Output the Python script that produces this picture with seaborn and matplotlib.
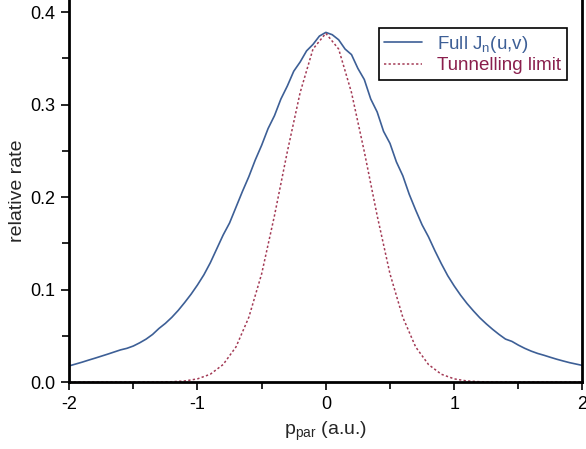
import matplotlib
matplotlib.use("Agg")
import matplotlib.pyplot as plt
import pandas as pd
import seaborn as sns
from matplotlib.ticker import MultipleLocator

# momentum grid (a.u.) and rates
p_full = [-2.00, -1.95, -1.90, -1.85, -1.80, -1.75, -1.70, -1.65, -1.60, -1.55,
          -1.50, -1.45, -1.40, -1.35, -1.30, -1.25, -1.20, -1.15, -1.10, -1.05,
          -1.00, -0.95, -0.90, -0.85, -0.80, -0.75, -0.70, -0.65, -0.60, -0.55,
          -0.50, -0.45, -0.40, -0.35, -0.30, -0.25, -0.20, -0.15, -0.10, -0.05,
          0.00, 0.05, 0.10, 0.15, 0.20, 0.25, 0.30, 0.35, 0.40, 0.45,
          0.50, 0.55, 0.60, 0.65, 0.70, 0.75, 0.80, 0.85, 0.90, 0.95,
          1.00, 1.05, 1.10, 1.15, 1.20, 1.25, 1.30, 1.35, 1.40, 1.45,
          1.50, 1.55, 1.60, 1.65, 1.70, 1.75, 1.80, 1.85, 1.90, 1.95, 2.00]
rate_full = [0.0175, 0.0195, 0.0215, 0.0237, 0.0258, 0.0280, 0.0302, 0.0325, 0.0348, 0.0365,
             0.0390, 0.0425, 0.0465, 0.0515, 0.0580, 0.0635, 0.0700, 0.0775, 0.0860, 0.0950,
             0.1050, 0.1160, 0.1290, 0.1440, 0.1590, 0.1720, 0.1890, 0.2060, 0.2220, 0.2400,
             0.2560, 0.2740, 0.2880, 0.3060, 0.3200, 0.3360, 0.3460, 0.3580, 0.3650, 0.3740,
             0.3780, 0.3755, 0.3700, 0.3600, 0.3540, 0.3390, 0.3270, 0.3060, 0.2920, 0.2710,
             0.2580, 0.2380, 0.2230, 0.2030, 0.1860, 0.1700, 0.1570, 0.1420, 0.1280, 0.1150,
             0.1040, 0.0940, 0.0850, 0.0770, 0.0695, 0.0630, 0.0570, 0.0515, 0.0465, 0.0440,
             0.0400, 0.0365, 0.0335, 0.0310, 0.0290, 0.0268, 0.0247, 0.0228, 0.0210, 0.0195, 0.0180]

p_tunnel = [-2.0, -1.5, -1.3, -1.2, -1.1, -1.0, -0.9, -0.8, -0.7, -0.6, -0.5, -0.4, -0.3,
            -0.2, -0.1, 0.0, 0.1, 0.2, 0.3, 0.4, 0.5, 0.6, 0.7, 0.8, 0.9, 1.0, 1.1,
            1.2, 1.3, 1.5, 2.0]
rate_tunnel = [0.0, 0.0, 0.0, 0.0004, 0.0012, 0.0035, 0.0085, 0.019, 0.038, 0.070, 0.117, 0.180, 0.249,
               0.313, 0.360, 0.377, 0.360, 0.313, 0.249, 0.180, 0.117, 0.070, 0.038, 0.019, 0.0085, 0.0035, 0.0012,
               0.0004, 0.0, 0.0, 0.0]

df_full = pd.DataFrame({"p": p_full, "rate": rate_full})
df_tunnel = pd.DataFrame({"p": p_tunnel, "rate": rate_tunnel})

blue = "#3d5f96"
red = "#a33a55"

sns.set_style("ticks")
plt.rcParams['font.family'] = ['Liberation Sans', 'DejaVu Sans']
plt.rcParams['axes.unicode_minus'] = False

fig = plt.figure(figsize=(5.86, 4.49), dpi=100)
ax = fig.add_axes([0.118, 0.149, 0.876, 0.851])

sns.lineplot(data=df_full, x="p", y="rate", ax=ax, color=blue, linewidth=1.2,
             label="Full J$_\\mathregular{n}$(u,v)")
sns.lineplot(data=df_tunnel, x="p", y="rate", ax=ax, color=red, linewidth=1.1,
             linestyle=(0, (1.5, 1.5)), label="Tunnelling limit")

ax.set_xlim(-2, 2)
ax.set_ylim(0, 0.413)
ax.xaxis.set_major_locator(MultipleLocator(1))
ax.xaxis.set_minor_locator(MultipleLocator(0.5))
ax.set_yticks([0.0, 0.1, 0.2, 0.3, 0.4])
ax.yaxis.set_minor_locator(MultipleLocator(0.05))
ax.set_yticklabels(["0.0", "0.1", "0.2", "0.3", "0.4"])
ax.tick_params(which="both", direction="out", width=1.2, labelsize=13, colors="black")
ax.tick_params(which="major", length=6, pad=4)
ax.tick_params(which="minor", length=5)

for side in ["left", "bottom", "right"]:
    ax.spines[side].set_linewidth(2)
    ax.spines[side].set_color("black")
ax.spines["top"].set_visible(False)

ax.set_xlabel("p$_\\mathregular{par}$ (a.u.)", fontsize=14, labelpad=5)
ax.set_ylabel("relative rate", fontsize=14, labelpad=3)

leg = ax.legend(loc="upper right", bbox_to_anchor=(0.969, 0.927), borderaxespad=0,
                fontsize=13.5, frameon=True, fancybox=False, edgecolor="black", framealpha=1,
                handlelength=2.0, handletextpad=0.8, borderpad=0.3, labelspacing=0.15)
leg.get_frame().set_linewidth(1.2)
for txt, col in zip(leg.get_texts(), [blue, "#8a1f4d"]):
    txt.set_color(col)

fig.savefig("out.png", dpi=100)
